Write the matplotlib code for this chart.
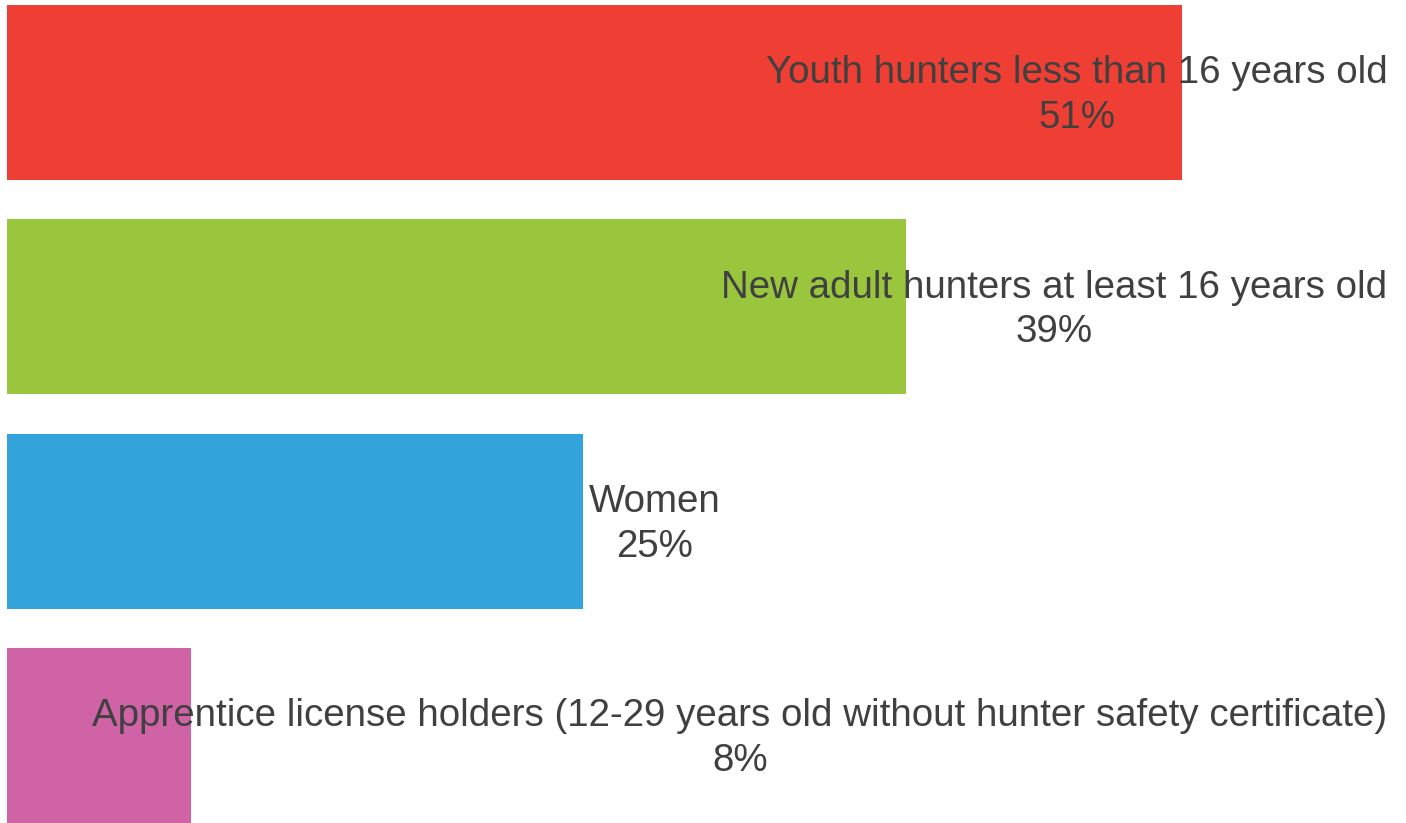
import matplotlib.pyplot as plt

# data
categories = ['Youth hunters less than 16 years old',
              'New adult hunters at least 16 years old',
              'Women',
              'Apprentice license holders (12-29 years old without hunter safety certificate)']
values = [51, 39, 25, 8]
colors = ['#EF3E33', '#99C63D', '#33A3DC', '#D063A5']

plt.rcParams['font.family'] = ['Liberation Sans', 'DejaVu Sans']

fig = plt.figure(figsize=(14.06, 8.23), dpi=100)
ax = fig.add_axes([7 / 1406, 0, 1399 / 1406, 818 / 823])

ypos = list(range(len(values)))
bars = ax.barh(ypos, values, height=0.815, color=colors)

xmax = 60.7
ax.set_xlim(0, xmax)
ax.set_ylim(len(values) - 1 + 0.4075, -0.4075)
ax.axis('off')

# labels: next to the bar end if it fits, otherwise pushed to the right edge
text_right = 59.9
for y, v, name in zip(ypos, values, categories):
    label = name + '\n' + str(v) + '%'
    t = ax.text(v + 0.25, y + 0.015, label, ha='left', va='center', multialignment='center',
                fontsize=27.7, color='#404040', linespacing=1.32)
    fig.canvas.draw()
    bb = t.get_window_extent().transformed(ax.transData.inverted())
    if bb.x1 > text_right:
        t.set_x(text_right)
        t.set_ha('right')

fig.savefig('out.png', dpi=100)
